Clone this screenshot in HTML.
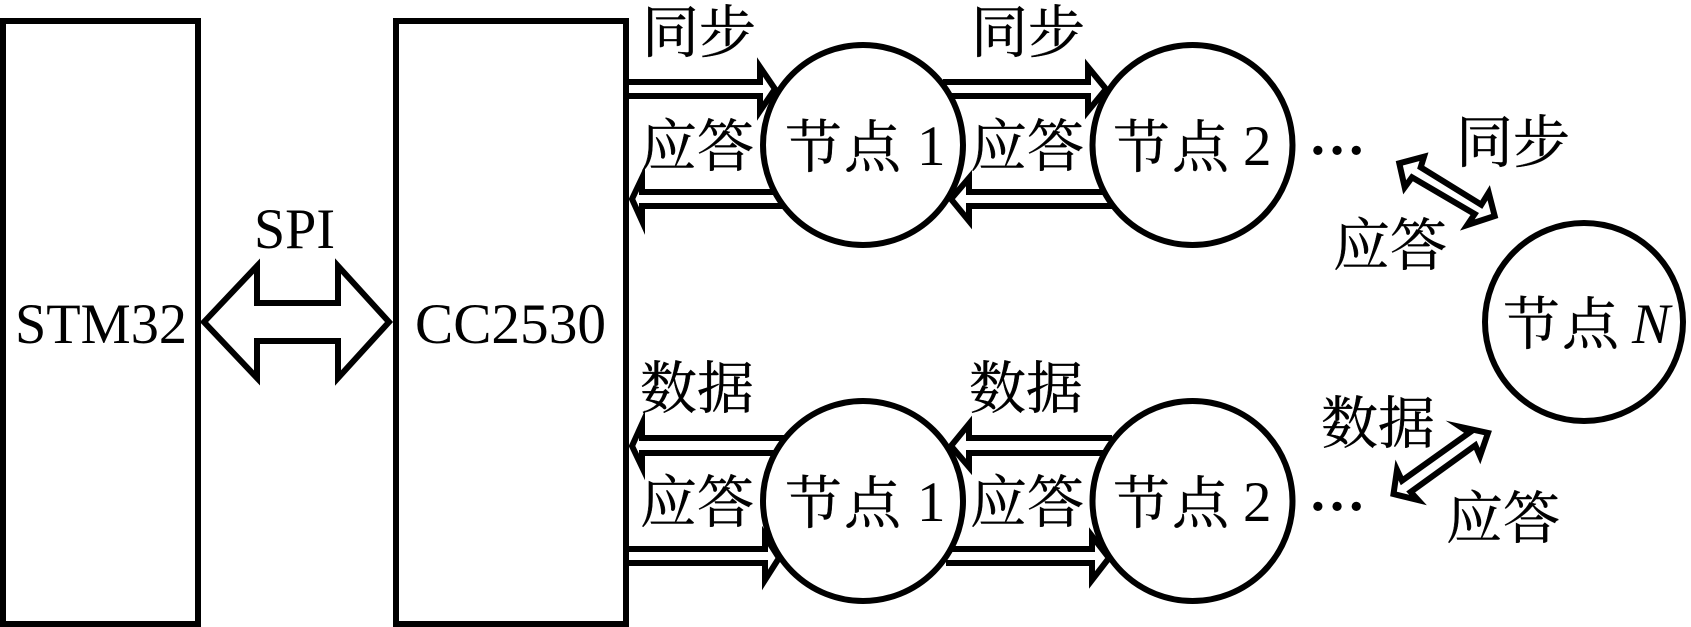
<!DOCTYPE html>
<html><head><meta charset="utf-8"><style>
html,body{margin:0;padding:0;background:#fff}
svg{display:block}
.c{font-family:"Liberation Serif","Noto Serif CJK SC",serif;font-size:57px;fill:#000;stroke:#000;stroke-width:.4}
.l{font-family:"Liberation Serif","Noto Serif CJK SC",serif;font-size:57px;fill:#000}
.b{font-weight:bold}
.s{fill:none;stroke:#000;stroke-width:6;stroke-miterlimit:10}
.d{fill:#fff;stroke:#000;stroke-width:6;stroke-miterlimit:10}
</style></head><body>
<svg width="1691" height="627" viewBox="0 0 1691 627" xmlns="http://www.w3.org/2000/svg">
<rect width="1691" height="627" fill="#fff"/>
<rect class="s" x="3" y="21" width="195" height="603"/>
<rect class="s" x="396" y="21" width="230" height="603"/>
<polygon class="s" points="204,322 257,266 257,303 338,303 338,266 389,322 338,378 338,341 257,341 257,378"/>

<circle class="s" cx="863" cy="145" r="100"/>
<circle class="s" cx="1192.5" cy="145" r="100"/>
<circle class="s" cx="863" cy="501" r="100"/>
<circle class="s" cx="1192.5" cy="501" r="100"/>
<circle class="s" cx="1584" cy="322" r="99"/>

<!-- top sync arrows -->
<polyline class="s" points="629,82 760,82 760,67 775,89 760,111 760,96 629,96"/>
<polyline class="s" points="943,82 1088,82 1088,67 1106,89 1088,111 1088,96 951,96"/>
<!-- top ack arrows -->
<polyline class="s" points="775,192 642,192 642,178 632,199 642,221 642,206 784,206"/>
<polyline class="s" points="1104,192 969,192 969,178 951,199 969,221 969,206 1113,206"/>
<!-- bottom data arrows -->
<polyline class="s" points="785,438 642,438 642,424 632,446 642,467 642,453 776,453"/>
<polyline class="s" points="1112,438 969,438 969,424 951,446 969,467 969,453 1104,453"/>
<!-- bottom ack arrows -->
<polyline class="s" points="629,549 765,549 765,536 779,558 765,580 765,563 629,563"/>
<polyline class="s" points="952,549 1092,549 1092,536 1109,558 1092,580 1092,563 946,563"/>
<!-- diagonals -->
<polygon class="d" points="1399.3,163.3 1424,156.7 1420.7,167.3 1481.3,204.7 1488.7,192.7 1494.7,216 1467.3,225 1474.7,214 1412,177.3 1404.7,187.3"/>
<polygon class="d" points="1393.5,494 1397,470 1402,480.7 1469.3,432.7 1460.7,427 1488,433 1480,456 1475.3,445.3 1410.7,492 1418,500"/>

<text class="l" x="15" y="343" textLength="172" lengthAdjust="spacingAndGlyphs">STM32</text>
<text class="l" x="415" y="343" textLength="191" lengthAdjust="spacingAndGlyphs">CC2530</text>
<text class="l" x="254" y="248" textLength="81" lengthAdjust="spacingAndGlyphs">SPI</text>

<text class="c" x="642" y="52">同步</text>
<text class="c" x="640" y="166">应答</text>
<text class="c" x="971" y="52">同步</text>
<text class="c" x="970" y="166">应答</text>
<text class="c" x="1456" y="162">同步</text>
<text class="c" x="1333" y="265">应答</text>
<text class="c" x="640" y="408">数据</text>
<text class="c" x="640" y="522">应答</text>
<text class="c" x="969" y="408">数据</text>
<text class="c" x="970" y="522">应答</text>
<text class="c" x="1321" y="443">数据</text>
<text class="c" x="1446" y="538">应答</text>

<text class="c" x="785 844" y="167">节点</text>
<text class="l" x="917" y="165">1</text>
<text class="c" x="1113 1172" y="167">节点</text>
<text class="l" x="1243" y="165">2</text>
<text class="c" x="785 844" y="523">节点</text>
<text class="l" x="917" y="521">1</text>
<text class="c" x="1113 1172" y="523">节点</text>
<text class="l" x="1243" y="521">2</text>
<text class="c" x="1503 1562" y="344">节点</text>
<text class="l" x="1632" y="343" font-style="italic">N</text>

<text class="l b" x="1308.5" y="154">…</text>
<text class="l b" x="1308.5" y="510">…</text>
</svg>
</body></html>
